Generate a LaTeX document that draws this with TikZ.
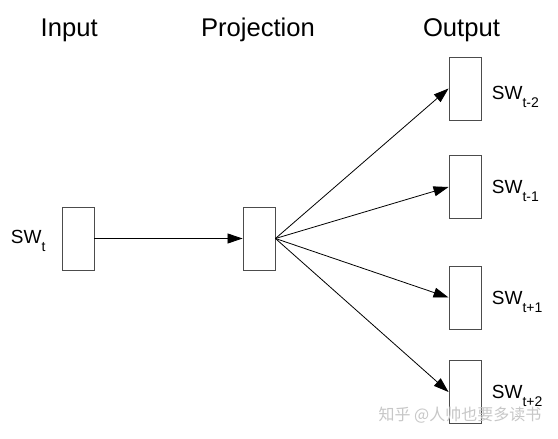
\documentclass[tikz,border=0pt]{standalone}
\usepackage{fontspec}
\setmainfont{Liberation Sans}
\newfontfamily\cjkwm{Noto Sans CJK SC}
\usetikzlibrary{arrows.meta}
\newcommand{\swlabel}[1]{SW\raisebox{-8.5pt}{\fontsize{14}{14}\selectfont #1}}
\begin{document}
\begin{tikzpicture}[x=1pt,y=-1pt,
  unit/.style={draw=black!70, fill=white, line width=0.9pt, minimum width=32pt, minimum height=63pt, inner sep=0pt},
  title/.style={anchor=base, font=\fontsize{25.6}{26}\selectfont, inner sep=0pt},
  swl/.style={anchor=base west, font=\fontsize{19}{19}\selectfont, inner sep=0pt},
  conn/.style={line width=0.8pt, -{Triangle[length=15pt,width=10pt]}}]
\useasboundingbox (0,0) rectangle (558,439);
\fill[white] (0,0) rectangle (558,439);
\node[title] (tin) at (69.2,36) {Input};
\node[title] (tproj) at (258,36) {Projection};
\node[title] (tout) at (461.5,36) {Output};
\node[unit] (in) at (78,238.5) {};
\node[unit] (proj) at (259,238.5) {};
\node[unit] (o1) at (465,88.5) {};
\node[unit] (o2) at (465,187) {};
\node[unit] (o3) at (465,297.5) {};
\node[unit] (o4) at (465,392) {};
\node[swl] (lin) at (10.7,243) {\swlabel{t}};
\node[swl] (l1) at (491.7,99) {\swlabel{t-2}};
\node[swl] (l2) at (491.7,193) {\swlabel{t-1}};
\node[swl] (l3) at (491.7,304) {\swlabel{t+1}};
\node[swl] (l4) at (491.7,398) {\swlabel{t+2}};
\draw[conn] (in.east) -- (proj.west);
\draw[conn] (proj.east) -- (o1.west);
\draw[conn] (proj.east) -- (o2.west);
\draw[conn] (proj.east) -- (o3.west);
\draw[conn] (proj.east) -- (o4.west);
\node[text=black!22, font=\cjkwm\fontsize{16}{16}\selectfont, inner sep=0pt] (wm) at (460,415) {知乎 @人帅也要多读书};
\end{tikzpicture}
\end{document}
